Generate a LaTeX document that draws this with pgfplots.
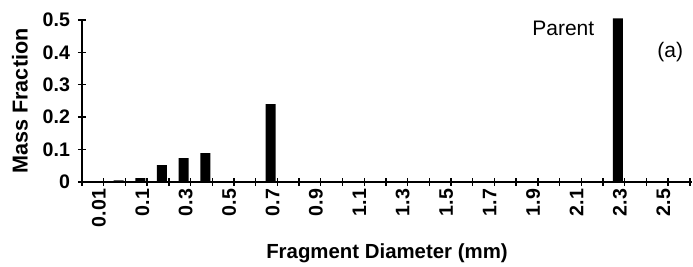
\documentclass[border=0pt]{standalone}
\usepackage{pgfplots}
\pgfplotsset{compat=1.18}
\usepackage{fontspec}
\setmainfont{Liberation Sans}
\begin{document}
\begin{tikzpicture}
\useasboundingbox (-41pt,-42.5pt) rectangle (305.5pt,91pt);
\begin{axis}[
  scale only axis, width=305pt, height=81pt,
  xmin=-0.5, xmax=27.6, ymin=0, ymax=0.5,
  axis x line*=bottom, axis y line*=left,
  axis line style={-, line width=0.8pt},
  tick align=center, major tick length=4pt,
  tick style={black, line width=0.7pt},
  xtick={-0.5,0.5,...,27.5}, xticklabels={},
  extra x ticks={0,2,...,26},
  extra x tick labels={0.01,0.1,0.3,0.5,0.7,0.9,1.1,1.3,1.5,1.7,1.9,2.1,2.3,2.5},
  extra x tick style={major tick length=0pt,
    xticklabel style={rotate=90, anchor=east, yshift=-3pt}},
  ytick={0,0.1,0.2,0.3,0.4,0.5},
  yticklabels={0,0.1,0.2,0.3,0.4,0.5},
  ticklabel style={font=\fontsize{9.8}{11}\selectfont\bfseries},
  yticklabel style={xshift=-0.5pt},
  xlabel={Fragment Diameter (mm)},
  xlabel style={font=\fontsize{10.2}{12}\selectfont\bfseries,
    at={(axis description cs:0.5,-0.438)}, anchor=center},
  ylabel={Mass Fraction},
  ylabel style={font=\fontsize{10.8}{12}\selectfont\bfseries,
    at={(axis description cs:-0.1016,0.5)}, anchor=center},
  clip=false,
]
\addplot[ybar, bar width=5pt, bar shift=2pt, fill=black, draw=none] coordinates {
  (1,0.005) (2,0.012) (3,0.052) (4,0.074) (5,0.089) (8,0.24) (24,0.505)
};
\node[font=\fontsize{10.5}{12}\selectfont] at (axis cs:21.67,0.475) {Parent};
\node[font=\fontsize{10.5}{12}\selectfont] at (axis cs:26.6,0.40) {(a)};
\end{axis}
\end{tikzpicture}
\end{document}
